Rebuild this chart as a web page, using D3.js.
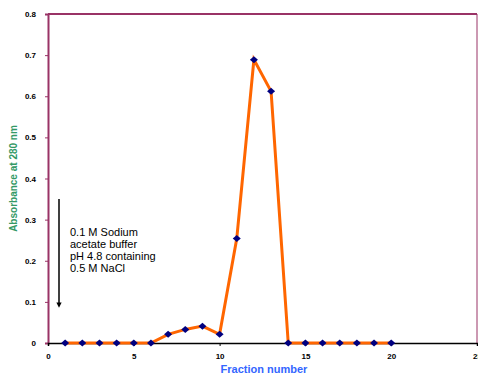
<!DOCTYPE html>
<html><head><meta charset="utf-8">
<script src="https://cdn.jsdelivr.net/npm/d3@7"></script>
<style>body{margin:0;background:#fff}svg{display:block}</style>
</head><body>
<svg id="c" width="478" height="374"></svg>
<script>
const fractions = [1,2,3,4,5,6,7,8,9,10,11,12,13,14,15,16,17,18,19,20];
const absorbance = [0,0,0,0,0,0,0.021,0.033,0.041,0.021,0.254,0.689,0.612,0,0,0,0,0,0,0];
const xTicks = [0,5,10,15,20,25];
const yTicks = [0,0.1,0.2,0.3,0.4,0.5,0.6,0.7,0.8];
const annotation = ["0.1 M Sodium","acetate buffer","pH 4.8 containing","0.5 M NaCl"];

const svg = d3.select("#c");
const L=48, R=477, T=14, B=343;
const x = d3.scaleLinear().domain([0,25]).range([L,R]);
const y = d3.scaleLinear().domain([0,0.8]).range([B,T]);
const purple = "#993366";

// plot border
svg.append("line").attr("x1",L).attr("x2",R).attr("y1",T).attr("y2",T).attr("stroke",purple).attr("stroke-width",2);
svg.append("line").attr("x1",R).attr("x2",R).attr("y1",T).attr("y2",B).attr("stroke",purple).attr("stroke-width",1);

// y axis
const ya = svg.append("g").attr("transform",`translate(${L},0)`)
  .call(d3.axisLeft(y).tickValues(yTicks).tickSize(3).tickPadding(9).tickFormat(d=>d===0?"0":d3.format(".1f")(d)));
ya.select(".domain").attr("stroke",purple).attr("stroke-width",2);
ya.selectAll(".tick line").attr("stroke",purple);
ya.selectAll("text").attr("font-family","Arial, Liberation Sans, sans-serif").attr("font-size",8).attr("font-weight","bold").attr("fill","#000");

// x axis
const xa = svg.append("g").attr("transform",`translate(0,${B})`)
  .call(d3.axisBottom(x).tickValues(xTicks).tickSize(3).tickPadding(7).tickFormat(d3.format("d")));
xa.select(".domain").attr("stroke","#000").attr("stroke-width",1.5);
xa.selectAll(".tick line").attr("stroke","#000");
xa.selectAll("text").attr("font-family","Arial, Liberation Sans, sans-serif").attr("font-size",8).attr("font-weight","bold").attr("fill","#000");

// line
svg.append("path").datum(fractions.map((f,i)=>[f,absorbance[i]]))
  .attr("d",d3.line().x(d=>x(d[0])).y(d=>y(d[1])))
  .attr("fill","none").attr("stroke","#ff6600").attr("stroke-width",3);

// markers
svg.selectAll(".m").data(fractions.map((f,i)=>[f,absorbance[i]])).enter()
  .append("path").attr("class","m")
  .attr("transform",d=>`translate(${x(d[0])},${y(d[1])})`)
  .attr("d","M0,-3.5L4,0L0,3.5L-4,0Z")
  .attr("fill","#000080");

// axis titles
svg.append("text").attr("transform",`translate(17,${(T+B)/2}) rotate(-90)`)
  .attr("text-anchor","middle").attr("font-family","Arial, Liberation Sans, sans-serif")
  .attr("font-size",10).attr("font-weight","bold").attr("fill","#339966").text("Absorbance at 280 nm");
svg.append("text").attr("x",264).attr("y",373)
  .attr("text-anchor","middle").attr("font-family","Arial, Liberation Sans, sans-serif")
  .attr("font-size",11).attr("font-weight","bold").attr("fill","#3366ff").text("Fraction number");

// annotation arrow
svg.append("defs").append("marker").attr("id","ah").attr("viewBox","0 0 10 10")
  .attr("refX",5).attr("refY",5).attr("markerWidth",3.5).attr("markerHeight",3.5).attr("orient","auto")
  .append("path").attr("d","M0,0L10,5L0,10z").attr("fill","#000");
svg.append("line").attr("x1",59).attr("x2",59).attr("y1",199).attr("y2",305)
  .attr("stroke","#000").attr("stroke-width",1.5).attr("marker-end","url(#ah)");

svg.append("g").selectAll("text").data(annotation).enter().append("text")
  .attr("x",70).attr("y",(d,i)=>236+i*12)
  .attr("font-family","Arial, Liberation Sans, sans-serif").attr("font-size",11).attr("fill","#000")
  .text(d=>d);
</script>
</body></html>
